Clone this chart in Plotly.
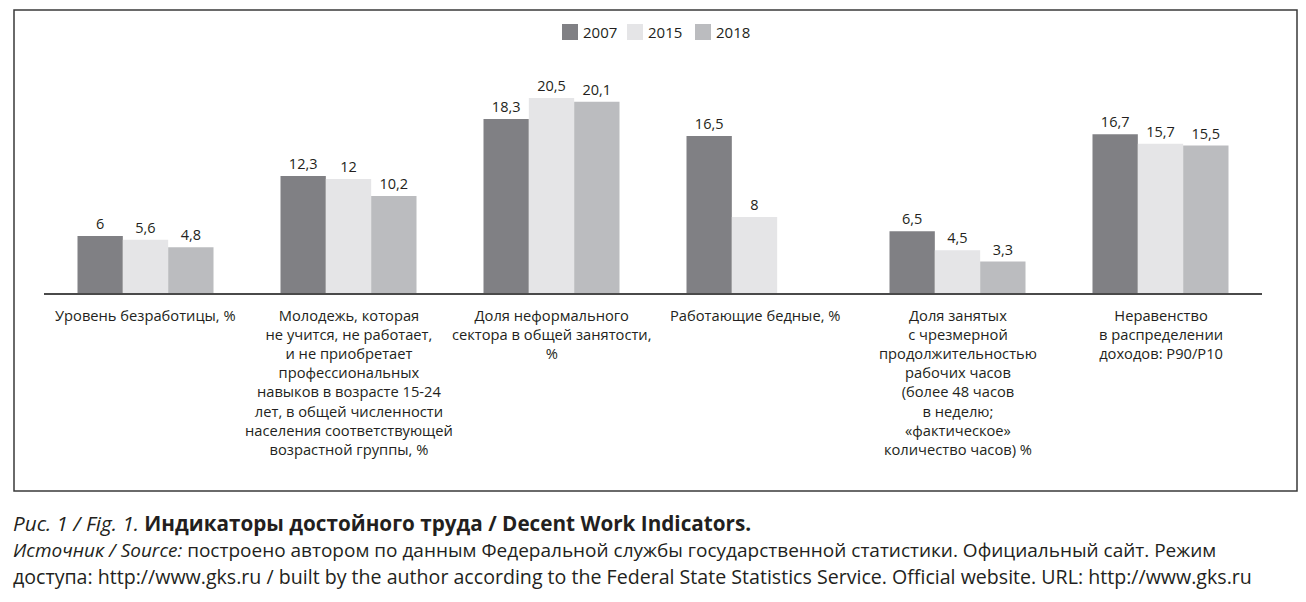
import plotly.graph_objects as go

categories = [
    "Уровень безработицы, %",
    "Молодежь, которая<br>не учится, не работает,<br>и не приобретает<br>профессиональных<br>навыков в возрасте 15-24<br>лет, в общей численности<br>населения соответствующей<br>возрастной группы, %",
    "Доля неформального<br>сектора в общей занятости,<br>%",
    "Работающие бедные, %",
    "Доля занятых<br>с чрезмерной<br>продолжительностью<br>рабочих часов<br>(более 48 часов<br>в неделю;<br>«фактическое»<br>количество часов) %",
    "Неравенство<br>в распределении<br>доходов: Р90/Р10",
]
years = ["2007", "2015", "2018"]
v2007 = [6, 12.3, 18.3, 16.5, 6.5, 16.7]
v2015 = [5.6, 12, 20.5, 8, 4.5, 15.7]
v2018 = [4.8, 10.2, 20.1, None, 3.3, 15.5]
series = [v2007, v2015, v2018]
colors = ["#808084", "#e5e5e7", "#bbbcbf"]

OFF = 8                   # page body margin
W, H = 1306 - OFF, 602 - OFF
L, R = 44, 1262           # plot area (page px)
TOP, BASE = 60, 293

def px2x(px):
    return (px - L) / (R - L)

def px2y(py):
    return (BASE - py) / (BASE - TOP)

def fmt(v):
    return "" if v is None else (f"{v:g}".replace(".", ","))

TXT = "#231f20"
fig = go.Figure()
idx = list(range(len(categories)))
for name, vals, c in zip(years, series, colors):
    fig.add_trace(go.Bar(
        x=idx, y=vals, name=name, marker=dict(color=c, line=dict(width=0)),
        text=[fmt(v) for v in vals], textposition="outside",
        textfont=dict(family="Open Sans", size=14.5, color=TXT),
        cliponaxis=False, showlegend=False,
    ))

annotations = []
shapes = []
for i, cat in enumerate(categories):
    annotations.append(dict(
        x=i, xref="x", y=px2y(303), yref="paper", text=cat, showarrow=False,
        xanchor="center", yanchor="top", align="center",
        font=dict(family="Open Sans", size=14.7, color=TXT),
    ))

# legend (manual, compact like the reference)
leg_x = [562, 627, 695]
for yr, c, lx in zip(years, colors, leg_x):
    shapes.append(dict(type="rect", xref="paper", yref="paper",
                       x0=px2x(lx), x1=px2x(lx + 16), y0=px2y(40), y1=px2y(24),
                       line=dict(width=0), fillcolor=c))
    annotations.append(dict(x=px2x(lx + 19), y=px2y(32), xref="paper", yref="paper",
                            xanchor="left", yanchor="middle", showarrow=False, text=yr,
                            font=dict(family="Open Sans", size=15, color=TXT)))

cap_font = "Open Sans"
annotations.append(dict(
    x=px2x(11), y=px2y(523), xref="paper", yref="paper", xanchor="left", yanchor="middle",
    showarrow=False, align="left",
    text="<i>Рис. 1 / Fig. 1.</i> <b>Индикаторы достойного труда / Decent Work Indicators.</b>",
    font=dict(family=cap_font, size=20.7, color=TXT),
))
annotations.append(dict(
    x=px2x(11), y=px2y(550), xref="paper", yref="paper", xanchor="left", yanchor="middle",
    showarrow=False, align="left",
    text="<i>Источник / Source:</i> построено автором по данным Федеральной службы государственной статистики. Официальный сайт. Режим",
    font=dict(family=cap_font, size=19, color=TXT),
))
annotations.append(dict(
    x=px2x(11), y=px2y(576), xref="paper", yref="paper", xanchor="left", yanchor="middle",
    showarrow=False, align="left",
    text="доступа: http://www.gks.ru / built by the author according to the Federal State Statistics Service. Official website. URL: http://www.gks.ru",
    font=dict(family=cap_font, size=19.6, color=TXT),
))

shapes.append(dict(
    type="rect", xref="paper", yref="paper",
    x0=px2x(14), x1=px2x(1297), y0=px2y(491), y1=px2y(10),
    line=dict(color="#3a3a3a", width=1.5), fillcolor="rgba(0,0,0,0)", layer="below",
))

fig.update_layout(
    width=W, height=H,
    margin=dict(l=L - OFF, r=W - (R - OFF), t=TOP - OFF, b=H - (BASE - OFF), pad=0),
    paper_bgcolor="white", plot_bgcolor="white",
    barmode="group", bargap=0.33, bargroupgap=0,
    showlegend=False,
    xaxis=dict(range=[-0.5, len(categories) - 0.5], showticklabels=False, showgrid=False,
               zeroline=False, showline=True, linecolor="#4a4a4a", linewidth=1.5, ticks=""),
    yaxis=dict(range=[0, 24.5], visible=False, showgrid=False, zeroline=False),
    annotations=annotations, shapes=shapes,
)

fig.write_html("out.html")
